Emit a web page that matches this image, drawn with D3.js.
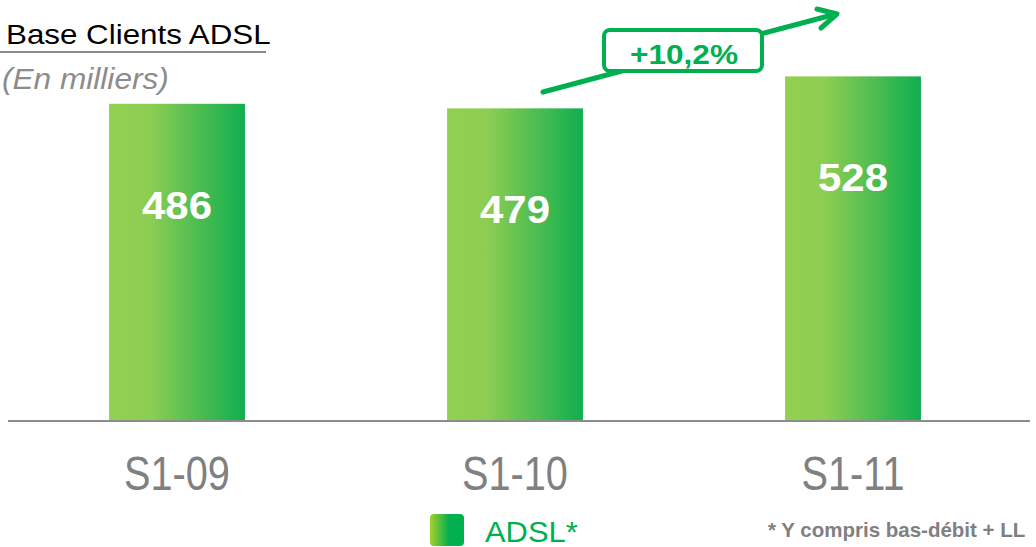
<!DOCTYPE html>
<html>
<head>
<meta charset="utf-8">
<script src="https://cdn.jsdelivr.net/npm/d3@7"></script>
<style>
  body { margin: 0; background: #fff; }
  svg { display: block; font-family: "Liberation Sans", Arial, sans-serif; }
</style>
</head>
<body>
<div id="chart"></div>
<script>
const periods = ["S1-09", "S1-10", "S1-11"]
const clients = [486, 479, 528]
const growthLabel = "+10,2%"
const legendLabel = "ADSL*"
const footnote = "* Y compris bas-débit + LL"

const width = 1036
const height = 547
const baseline = 421
const green = '#00b050'

const svg = d3.select('#chart').append('svg').attr('width', width).attr('height', height)

const defs = svg.append('defs')
const barGrad = defs.append('linearGradient').attr('id', 'barGrad')
barGrad.append('stop').attr('offset', '0%').attr('stop-color', '#92d050')
barGrad.append('stop').attr('offset', '30%').attr('stop-color', '#8dcd52')
barGrad.append('stop').attr('offset', '100%').attr('stop-color', '#10ae50')

const legGrad = defs.append('linearGradient').attr('id', 'legGrad')
legGrad.append('stop').attr('offset', '0%').attr('stop-color', '#a6cf2a')
legGrad.append('stop').attr('offset', '55%').attr('stop-color', '#05b04f')
legGrad.append('stop').attr('offset', '100%').attr('stop-color', '#00b050')

// text placed with a horizontal stretch (the source text is wider / narrower than the font)
function label(sel, x, y, sx) {
    return sel.append('text')
        .attr('transform', 'translate(' + x + ',' + y + ') scale(' + sx + ',1)')
}

const xScale = d3.scaleBand().domain(periods).range([8, 1022]).paddingInner(0.598).paddingOuter(0.299)
const yScale = d3.scaleLinear().domain([0, 645]).range([baseline, 0])

// bars
svg.selectAll('rect.bar').data(periods)
    .enter()
    .append('rect')
    .attr('class', 'bar')
    .attr('x', d => xScale(d))
    .attr('y', (d, i) => yScale(clients[i]))
    .attr('width', xScale.bandwidth())
    .attr('height', (d, i) => baseline - yScale(clients[i]))
    .attr('fill', 'url(#barGrad)')

// values inside bars
periods.forEach(function(d, i) {
    label(svg, xScale(d) + xScale.bandwidth() / 2, yScale(clients[i]) + 115, 1.09)
        .attr('text-anchor', 'middle')
        .attr('font-size', '38.5px')
        .attr('font-weight', 'bold')
        .attr('fill', '#fff')
        .text(clients[i])
})

// baseline
svg.append('line')
    .attr('x1', 8).attr('x2', 1030)
    .attr('y1', baseline).attr('y2', baseline)
    .attr('stroke', '#8c8c8c').attr('stroke-width', 2)

// category labels (narrow font in the source)
const xAxis = d3.axisBottom(xScale).tickSize(0).tickPadding(0)
const axisG = svg.append('g').attr('transform', 'translate(0,' + baseline + ')').call(xAxis)
axisG.select('.domain').remove()
axisG.selectAll('.tick text')
    .attr('dy', null)
    .attr('y', 0)
    .attr('transform', 'translate(0,69) scale(0.81,1)')
    .attr('font-family', '"Liberation Sans Narrow", "Liberation Sans", sans-serif')
    .attr('font-size', '49px')
    .attr('fill', '#808080')

// title
label(svg, 6, 44, 1.1)
    .attr('font-size', '28.5px')
    .attr('fill', '#000')
    .text('Base Clients ADSL')
svg.append('line')
    .attr('x1', 0).attr('x2', 266)
    .attr('y1', 52).attr('y2', 52)
    .attr('stroke', '#8c8c8c').attr('stroke-width', 2)
label(svg, 2, 89, 1.09)
    .attr('font-size', '29px')
    .attr('font-style', 'italic')
    .attr('fill', '#8c8c8c')
    .text('(En milliers)')

// growth arrow
svg.append('line')
    .attr('x1', 543).attr('y1', 92).attr('x2', 836).attr('y2', 14)
    .attr('stroke', green).attr('stroke-width', 5).attr('stroke-linecap', 'round')
svg.append('path')
    .attr('d', 'M817,9 L837,14 L821,28')
    .attr('fill', 'none')
    .attr('stroke', green).attr('stroke-width', 5)
    .attr('stroke-linecap', 'round').attr('stroke-linejoin', 'round')
svg.append('rect')
    .attr('x', 604).attr('y', 30).attr('width', 158).attr('height', 41)
    .attr('rx', 6)
    .attr('fill', '#fff')
    .attr('stroke', green).attr('stroke-width', 4)
label(svg, 684, 64, 1.13)
    .attr('text-anchor', 'middle')
    .attr('font-size', '28px')
    .attr('font-weight', 'bold')
    .attr('fill', green)
    .text(growthLabel)

// legend
svg.append('rect')
    .attr('x', 430).attr('y', 514).attr('width', 34).attr('height', 32)
    .attr('rx', 4)
    .attr('fill', 'url(#legGrad)')
label(svg, 485, 542, 1.03)
    .attr('font-size', '30px')
    .attr('fill', green)
    .text(legendLabel)

svg.append('text')
    .attr('x', 768).attr('y', 537)
    .attr('font-size', '20.5px')
    .attr('font-weight', 'bold')
    .attr('fill', '#808080')
    .text(footnote)
</script>
</body>
</html>
